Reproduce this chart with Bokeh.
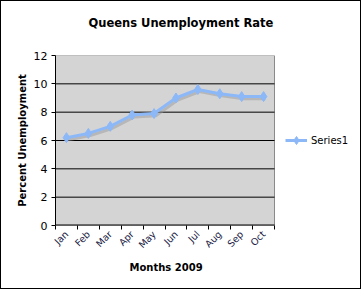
import numpy as np
from bokeh.plotting import figure
from bokeh.models import FixedTicker, Range1d, Legend, LegendItem, Title
from bokeh.embed import file_html
from bokeh.resources import INLINE

months = ["Jan", "Feb", "Mar", "Apr", "May", "Jun", "Jul", "Aug", "Sep", "Oct"]
rates = [6.2, 6.5, 7.0, 7.8, 7.9, 9.0, 9.6, 9.3, 9.1, 9.1]
y_ticks = [0, 2, 4, 6, 8, 10, 12]

n = len(months)
xs = [i + 0.5 for i in range(n)]
bounds = list(range(n + 1))

FONT = "DejaVu Sans"
LINE_C = "#8cb8f8"

W, H = 361, 289
LEFT, TOP, BOTTOM = 54, 54, 65
AREA_W = 219  # pixel width of the grey plot area
frame_w = W - LEFT
x_end = n * frame_w / AREA_W

p = figure(width=W, height=H, output_backend="svg", toolbar_location=None,
           x_range=Range1d(0, x_end), y_range=Range1d(0, 12),
           min_border_left=LEFT, min_border_right=0, min_border_top=TOP,
           min_border_bottom=BOTTOM,
           styles={"border": "1px solid black"})

p.title.text = "Queens Unemployment Rate"
p.title.align = "left"
p.title.text_font = FONT
p.title.text_font_size = "11.5px"
p.title.text_font_style = "bold"
p.title.text_color = "black"
p.title.offset = 33
p.title.standoff = 4

# spacer between the title and the plot area
spacer = Title(text=" ", standoff=8, text_font_size="11.5px", text_font=FONT)
p.add_layout(spacer, "above")

p.background_fill_color = "white"
p.border_fill_color = "white"
p.outline_line_color = None

# grey plot area
p.quad(left=[0], right=[n], bottom=[0], top=[12], fill_color="#d4d4d4",
       line_color="#8a8a8a", line_width=1)
# gridlines
gy = y_ticks[1:-1]
p.segment(x0=[0] * len(gy), x1=[n] * len(gy), y0=gy, y1=gy,
          line_color="black", line_width=1)
# bottom axis line
p.segment(x0=[0], x1=[n], y0=[0], y1=[0], line_color="black", line_width=2)

# shadow
sx = [x + 0.08 for x in xs]
sy = [r - 0.15 for r in rates]
p.line(sx, sy, line_color="#9a9a9a", line_width=3, line_alpha=0.5)

ln = p.line(xs, rates, line_color=LINE_C, line_width=3)
sc = p.scatter(xs, rates, marker="diamond", size=10, fill_color=LINE_C, line_color=LINE_C)

# axes
p.xaxis.ticker = FixedTicker(ticks=xs, minor_ticks=bounds)
p.xaxis.major_label_overrides = {x: m for x, m in zip(xs, months)}
p.xaxis.major_tick_out = 0
p.xaxis.major_tick_in = 0
p.xaxis.minor_tick_out = 4
p.xaxis.minor_tick_in = 0
p.xaxis.minor_tick_line_color = "black"
p.xaxis.major_label_orientation = np.pi / 4
p.xaxis.major_label_text_font = FONT
p.xaxis.major_label_text_font_size = "9.5px"
p.xaxis.major_label_text_color = "#1a1a44"
p.xaxis.major_label_standoff = 3
p.xaxis.axis_line_color = None

xl = Title(text="Months 2009", align="left", offset=74, standoff=4,
           text_font=FONT, text_font_size="10px", text_font_style="bold",
           text_color="black")
p.add_layout(xl, "below")

p.yaxis.ticker = FixedTicker(ticks=y_ticks, minor_ticks=[])
p.yaxis.major_tick_out = 4
p.yaxis.major_tick_in = 0
p.yaxis.major_label_text_font = FONT
p.yaxis.major_label_text_font_size = "11px"
p.yaxis.major_label_text_color = "black"
p.yaxis.major_label_standoff = 4
p.yaxis.axis_label = "Percent Unemployment"
p.yaxis.axis_label_text_font = FONT
p.yaxis.axis_label_text_font_size = "10px"
p.yaxis.axis_label_text_font_style = "bold"
p.yaxis.axis_label_text_color = "black"
p.yaxis.axis_label_standoff = 3
p.yaxis.axis_line_color = "black"

p.grid.grid_line_color = None

legend = Legend(items=[LegendItem(label="Series1", renderers=[ln, sc])],
                location=(230, 75), border_line_alpha=0, background_fill_alpha=0,
                label_text_font=FONT, label_text_font_size="10px",
                label_text_color="black",
                glyph_width=22, padding=0, margin=0, label_standoff=4)
p.add_layout(legend)

open("out.html", "w").write(file_html(p, INLINE))
